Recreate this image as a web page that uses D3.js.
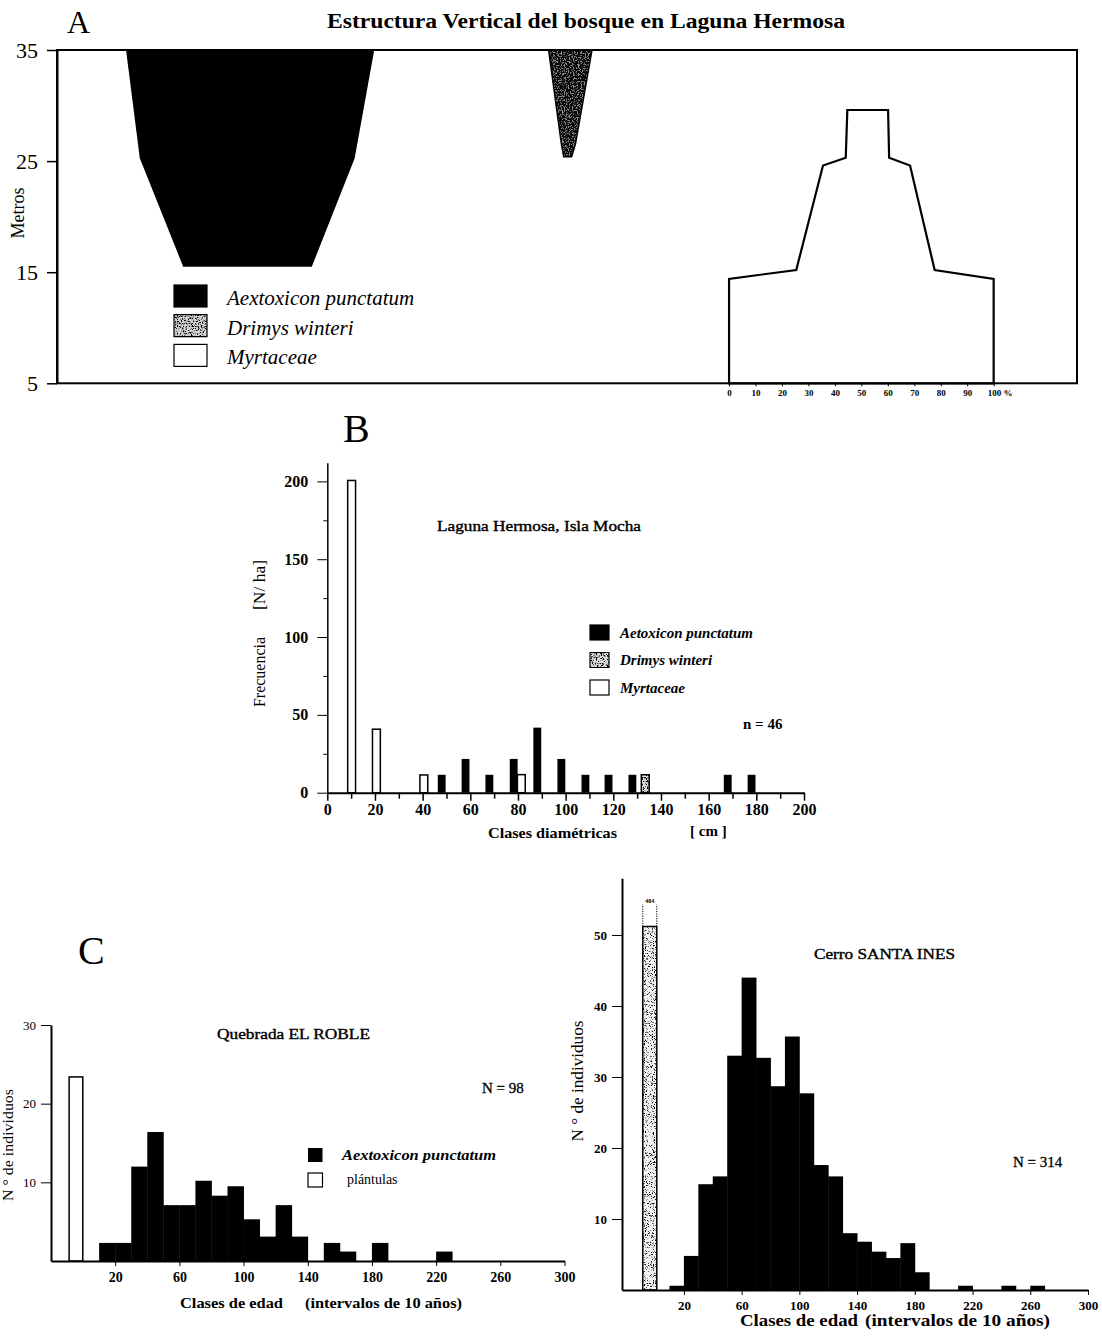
<!DOCTYPE html>
<html>
<head>
<meta charset="utf-8">
<script src="https://cdn.jsdelivr.net/npm/d3@7"></script>
<style>
    body { margin: 0; background: #fff; }
    svg { display: block; font-family: "Liberation Serif", "Times New Roman", serif; }
    .axis path, .axis line { stroke: #000; }
</style>
</head>
<body>
<svg id="fig" width="1102" height="1344"></svg>
<script>
// ---------- A: vertical structure, rows are [height m, left %, right %] ----------
const heightTicks = [35, 25, 15, 5];
const coverTicks = [0, 10, 20, 30, 40, 50, 60, 70, 80, 90, 100];
const speciesA = ["Aextoxicon punctatum", "Drimys winteri", "Myrtaceae"];
const coverOrigin = [-231, -110, 0];          // where each species' 0 % sits on the cover axis
const aextProfile = [[35, 3.1, 96.9], [25.25, 8.3, 89.5], [15.5, 24.7, 73.3]];
const drimysProfile = [[35, 41.8, 58.2], [26.6, 46.6, 52.0], [25.4, 47.5, 50.5]];
const myrtProfile = [[5, 0, 100], [14.4, 0, 100], [15.2, 25.4, 77.7], [24.6, 35.5, 68.4],
                     [25.3, 44.1, 60.5], [29.6, 44.7, 60.1]];

// ---------- B: diameter classes ----------
const speciesB = ["Aetoxicon punctatum", "Drimys winteri", "Myrtaceae"];
const diamTicks = [0, 20, 40, 60, 80, 100, 120, 140, 160, 180, 200];
const diamMinor = [10, 30, 50, 70, 90, 110, 130, 150, 170, 190];
const freqTicks = [0, 50, 100, 150, 200];
const freqMinor = [25, 75, 125, 175];
const aetoxDiam = [48, 58, 68, 78.2, 88.1, 98.2, 108.3, 118, 128, 168, 178];
const aetoxFreq = [11.5, 21.7, 11.5, 21.7, 41.8, 21.7, 11.5, 11.5, 11.5, 11.5, 11.5];
const drimysDiam = [133.4];
const drimysFreq = [11.6];
const myrtDiam = [10.2, 20.6, 40.5, 81.4];
const myrtFreq = [200.6, 40.8, 11.4, 11.6];

// ---------- C: age classes (start of each 10-year class) ----------
const ageTicks = [20, 60, 100, 140, 180, 220, 260, 300];
const robleClasses = [10, 20, 30, 40, 50, 60, 70, 80, 90, 100, 110, 120, 130, 140, 150, 160, 170, 180, 190, 200, 210, 220];
const robleCounts = [2.3, 2.3, 12, 16.4, 7.1, 7.1, 10.2, 8.3, 9.5, 5.3, 3.1, 7.1, 3.1, 0, 2.3, 1.2, 0, 2.3, 0, 0, 0, 1.2];
const robleSeedlings = { from: -8.7, to: -0.2, value: 23.4 };
const robleTicks = [10, 20, 30];

const inesClasses = [10, 20, 30, 40, 50, 60, 70, 80, 90, 100, 110, 120, 130, 140, 150, 160, 170, 180, 190, 200, 210, 220, 230, 240, 250, 260];
const inesCounts = [0.6, 4.8, 14.9, 16, 33, 44, 32.7, 28.7, 35.7, 27.7, 17.6, 16, 8, 6.8, 5.4, 4.5, 6.6, 2.5, 0, 0, 0.6, 0, 0, 0.6, 0, 0.6];
const inesSeedlings = { from: -8.5, to: 1.2, value: 51.2, top: 54.3, label: "484" };
const inesTicks = [10, 20, 30, 40, 50];

const svg = d3.select("#fig");
const defs = svg.append("defs");

// speckle texture: black dots whose opacity follows fractal noise
function stipple(id, freq, slope, intercept, seed) {
    const f = defs.append("filter").attr("id", id)
        .attr("x", 0).attr("y", 0).attr("width", 1).attr("height", 1);
    f.append("feTurbulence").attr("type", "fractalNoise").attr("baseFrequency", freq)
        .attr("numOctaves", 2).attr("seed", seed).attr("result", "n");
    f.append("feColorMatrix").attr("in", "n").attr("type", "matrix")
        .attr("values", `0 0 0 0 0  0 0 0 0 0  0 0 0 0 0  ${slope} 0 0 0 ${intercept}`).attr("result", "a");
    f.append("feComposite").attr("in", "a").attr("in2", "SourceGraphic").attr("operator", "in");
}
stipple("darkDots", 0.75, 7, -2.6, 4);
stipple("lightDots", 0.8, 7, -3.6, 7);
stipple("faintDots", 0.9, 6, -3.3, 11);

function speckled(g, draw, bg, filterId, strokeW) {
    draw(g.append("path")).attr("fill", bg).attr("stroke", "none");
    draw(g.append("path")).attr("fill", "#000").attr("filter", `url(#${filterId})`);
    draw(g.append("path")).attr("fill", "none").attr("stroke", "#000").attr("stroke-width", strokeW);
}
const rectPath = (x, y, w, h) => `M${x},${y}h${w}v${h}h${-w}Z`;

function styleAxis(g, size, weight) {
    g.classed("axis", true).attr("font-family", null).attr("font-size", null);
    g.selectAll("text").attr("font-size", size).attr("font-weight", weight).attr("fill", "#000");
}
function label(x, y, txt, size, opts = {}) {
    const t = svg.append("text").attr("x", x).attr("y", y).text(txt)
        .attr("font-size", size).attr("fill", "#000");
    if (opts.weight) t.attr("font-weight", opts.weight);
    if (opts.italic) t.attr("font-style", "italic");
    if (opts.anchor) t.attr("text-anchor", opts.anchor);
    if (opts.len) t.attr("textLength", opts.len).attr("lengthAdjust", "spacingAndGlyphs");
    if (opts.rotate) t.attr("transform", `rotate(-90,${x},${y})`);
    if (opts.heavy) t.attr("stroke", "#000").attr("stroke-width", opts.heavy);
    return t;
}

// ======================= Panel A =======================
const yA = d3.scaleLinear().domain([5, 35]).range([383.3, 50]);
const xA = d3.scaleLinear().domain([-254, 131.5]).range([57, 1077]);
const gA = svg.append("g");

function profilePath(rows, origin) {
    const left = rows.map(r => [xA(origin + r[1]), yA(r[0])]);
    const right = rows.slice().reverse().map(r => [xA(origin + r[2]), yA(r[0])]);
    return d3.line()(left.concat(right)) + "Z";
}

gA.append("path").attr("d", profilePath(aextProfile, coverOrigin[0])).attr("fill", "#000");
speckled(gA, p => p.attr("d", profilePath(drimysProfile, coverOrigin[1])), "#8c8c8c", "darkDots", 1.5);
gA.append("path").attr("d", profilePath(myrtProfile, coverOrigin[2]))
    .attr("fill", "#fff").attr("stroke", "#000").attr("stroke-width", 2.2).attr("stroke-linejoin", "miter");

gA.append("rect").attr("x", xA.range()[0]).attr("y", yA(35))
    .attr("width", xA.range()[1] - xA.range()[0]).attr("height", yA(5) - yA(35))
    .attr("fill", "none").attr("stroke", "#000").attr("stroke-width", 2);

gA.append("g").attr("transform", `translate(${xA.range()[0]},0)`)
    .call(d3.axisLeft(yA).tickValues(heightTicks).tickSize(10).tickPadding(9).tickSizeOuter(0))
    .call(g => g.select(".domain").attr("stroke-width", 2))
    .call(g => g.selectAll(".tick line").attr("stroke-width", 1.5))
    .call(g => styleAxis(g, 22, "normal"));

gA.append("g").attr("transform", `translate(0,${yA(5)})`)
    .call(d3.axisBottom(xA).tickValues(coverTicks).tickSize(3).tickPadding(3)
        .tickFormat(d => d === 100 ? "100 %" : d))
    .call(g => g.select(".domain").remove())
    .call(g => styleAxis(g, 9, "bold"))
    .call(g => g.selectAll(".tick text").attr("dx", d => d === 100 ? 6 : 0));

label(24, 213, "Metros", 18, { anchor: "middle", rotate: true });
label(67, 33, "A", 32);
label(327, 28, "Estructura Vertical del bosque en Laguna Hermosa", 20, { weight: "bold", len: 518 });

// legend A
const legA = gA.append("g");
speciesA.forEach((s, i) => {
    const y = 285 + i * 29.7;
    if (i === 1) speckled(legA, p => p.attr("d", rectPath(174, y, 33, 22)), "#d0d0d0", "lightDots", 1.2);
    else legA.append("rect").attr("x", 174).attr("y", y).attr("width", 33).attr("height", 22)
        .attr("fill", i === 0 ? "#000" : "#fff").attr("stroke", "#000").attr("stroke-width", 1.2);
    label(227, y + 20, s, 21, { italic: true });
});

// ======================= Panel B =======================
const xB = d3.scaleLinear().domain([0, 200]).range([327.3, 804]);
const yB = d3.scaleLinear().domain([0, 212]).range([792.7, 462.7]);
const gB = svg.append("g");
const barW = 3.3;

function barsB(xs, vs) {
    return xs.map((x, i) => ({ x0: xB(x - barW / 2), x1: xB(x + barW / 2), y: yB(vs[i]) }));
}
barsB(aetoxDiam, aetoxFreq).forEach(b =>
    gB.append("rect").attr("x", b.x0).attr("y", b.y).attr("width", b.x1 - b.x0)
        .attr("height", yB(0) - b.y).attr("fill", "#000"));
barsB(myrtDiam, myrtFreq).forEach(b =>
    gB.append("rect").attr("x", b.x0).attr("y", b.y).attr("width", b.x1 - b.x0)
        .attr("height", yB(0) - b.y).attr("fill", "#fff").attr("stroke", "#000").attr("stroke-width", 1.5));
barsB(drimysDiam, drimysFreq).forEach(b =>
    speckled(gB, p => p.attr("d", rectPath(b.x0, b.y, b.x1 - b.x0, yB(0) - b.y)), "#e0e0e0", "lightDots", 1.5));

gB.append("g").attr("transform", `translate(${xB(0)},0)`)
    .call(d3.axisLeft(yB).tickValues(freqTicks).tickSize(10).tickPadding(9).tickSizeOuter(0))
    .call(g => g.select(".domain").attr("stroke-width", 1.5))
    .call(g => styleAxis(g, 16, "bold"));
gB.append("g").attr("transform", `translate(${xB(0)},0)`)
    .call(d3.axisLeft(yB).tickValues(freqMinor).tickSize(4).tickFormat(""))
    .call(g => g.select(".domain").remove()).classed("axis", true);
gB.append("g").attr("transform", `translate(0,${yB(0)})`)
    .call(d3.axisBottom(xB).tickValues(diamTicks).tickSize(8).tickPadding(3).tickSizeOuter(0))
    .call(g => g.select(".domain").attr("stroke-width", 2))
    .call(g => g.selectAll(".tick line").attr("stroke-width", 1.5))
    .call(g => styleAxis(g, 16, "bold"));
gB.append("g").attr("transform", `translate(0,${yB(0)})`)
    .call(d3.axisBottom(xB).tickValues(diamMinor).tickSize(6).tickFormat(""))
    .call(g => g.select(".domain").remove()).classed("axis", true)
    .call(g => g.selectAll(".tick line").attr("stroke-width", 1.5));

label(343, 442, "B", 40);
label(437, 531, "Laguna Hermosa, Isla Mocha", 15, { len: 204, heavy: 0.4 });
label(265, 672, "Frecuencia", 16, { anchor: "middle", rotate: true, len: 70 });
label(265, 585, "[N/ ha]", 16, { anchor: "middle", rotate: true, len: 50 });
label(488, 838, "Clases diamétricas", 15, { weight: "bold", len: 129 });
label(690, 836, "[ cm ]", 15, { weight: "bold" });
label(743, 729, "n = 46", 15, { weight: "bold" });

const legB = gB.append("g");
speciesB.forEach((s, i) => {
    const y = 625 + i * 27.5;
    if (i === 1) speckled(legB, p => p.attr("d", rectPath(590, y, 19, 15)), "#d8d8d8", "lightDots", 1.2);
    else legB.append("rect").attr("x", 590).attr("y", y).attr("width", 19).attr("height", 15)
        .attr("fill", i === 0 ? "#000" : "#fff").attr("stroke", "#000").attr("stroke-width", 1.2);
    label(620, y + 12.5, s, 15, { weight: "bold", italic: true });
});

// ======================= Panel C =======================
function histogram(g, x, y, classes, counts) {
    classes.forEach((c, i) => {
        if (!counts[i]) return;
        g.append("rect").attr("x", x(c)).attr("y", y(counts[i]))
            .attr("width", x(c + 10) - x(c) + 0.4).attr("height", y(0) - y(counts[i]))
            .attr("fill", "#000");
    });
}
function ageAxis(g, x, y, yTicks, yFont, yWeight, xFont) {
    g.append("g").attr("transform", `translate(${x.range()[0]},0)`)
        .call(d3.axisLeft(y).tickValues(yTicks).tickSize(10).tickPadding(5).tickSizeOuter(0))
        .call(s => s.select(".domain").attr("stroke-width", 2))
        .call(s => styleAxis(s, yFont, yWeight));
    g.append("g").attr("transform", `translate(0,${y(0)})`)
        .call(d3.axisBottom(x).tickValues(ageTicks).tickSize(5).tickPadding(6).tickSizeOuter(0))
        .call(s => s.select(".domain").attr("stroke-width", 2))
        .call(s => styleAxis(s, xFont, "bold"));
}

// C left: Quebrada EL ROBLE
const xC1 = d3.scaleLinear().domain([-20, 300]).range([51, 564.5]);
const yC1 = d3.scaleLinear().domain([0, 30]).range([1261, 1025]);
const gC1 = svg.append("g");
histogram(gC1, xC1, yC1, robleClasses, robleCounts);
gC1.append("rect").attr("x", xC1(robleSeedlings.from)).attr("y", yC1(robleSeedlings.value))
    .attr("width", xC1(robleSeedlings.to) - xC1(robleSeedlings.from))
    .attr("height", yC1(0) - yC1(robleSeedlings.value))
    .attr("fill", "#fff").attr("stroke", "#000").attr("stroke-width", 1.5);
ageAxis(gC1, xC1, yC1, robleTicks, 13, "normal", 14);

label(78, 964, "C", 40);
label(217, 1039, "Quebrada EL ROBLE", 15, { len: 153, heavy: 0.4 });
label(482, 1093, "N = 98", 15, { heavy: 0.3 });
label(13, 1145, "N ° de individuos", 15, { anchor: "middle", rotate: true, len: 112 });
label(180, 1308, "Clases de edad", 15, { weight: "bold", len: 103 });
label(305, 1308, "(intervalos de 10 años)", 15, { weight: "bold", len: 157 });
gC1.append("rect").attr("x", 308).attr("y", 1148).attr("width", 14.5).attr("height", 14).attr("fill", "#000");
gC1.append("rect").attr("x", 308).attr("y", 1173).attr("width", 14.5).attr("height", 14)
    .attr("fill", "#fff").attr("stroke", "#000").attr("stroke-width", 1.2);
label(342, 1160, "Aextoxicon punctatum", 15, { weight: "bold", italic: true, len: 154 });
label(347, 1184, "plántulas", 14);

// C right: Cerro SANTA INES
const xC2 = d3.scaleLinear().domain([-22.9, 300]).range([622, 1088]);
const yC2 = d3.scaleLinear().domain([0, 58]).range([1290, 878.2]);
const gC2 = svg.append("g");
histogram(gC2, xC2, yC2, inesClasses, inesCounts);
const sx0 = xC2(inesSeedlings.from), sx1 = xC2(inesSeedlings.to);
speckled(gC2, p => p.attr("d", rectPath(sx0, yC2(inesSeedlings.value), sx1 - sx0, yC2(0) - yC2(inesSeedlings.value))),
    "#f4f4f4", "faintDots", 1.5);
[sx0, sx1].forEach(x => gC2.append("line").attr("x1", x).attr("x2", x)
    .attr("y1", yC2(inesSeedlings.value)).attr("y2", yC2(inesSeedlings.top))
    .attr("stroke", "#000").attr("stroke-width", 1).attr("stroke-dasharray", "1.2,1.2"));
label((sx0 + sx1) / 2, yC2(inesSeedlings.top) - 1, inesSeedlings.label, 6, { weight: "bold", anchor: "middle" });
ageAxis(gC2, xC2, yC2, inesTicks, 13, "bold", 13);

label(814, 959, "Cerro SANTA INES", 15, { len: 141, heavy: 0.4 });
label(1013, 1167, "N = 314", 15, { heavy: 0.3 });
label(583, 1081, "N ° de individuos", 17, { anchor: "middle", rotate: true, len: 121 });
label(740, 1326, "Clases de edad", 17, { weight: "bold", len: 118 });
label(865, 1326, "(intervalos de 10 años)", 17, { weight: "bold", len: 185 });
</script>
</body>
</html>
